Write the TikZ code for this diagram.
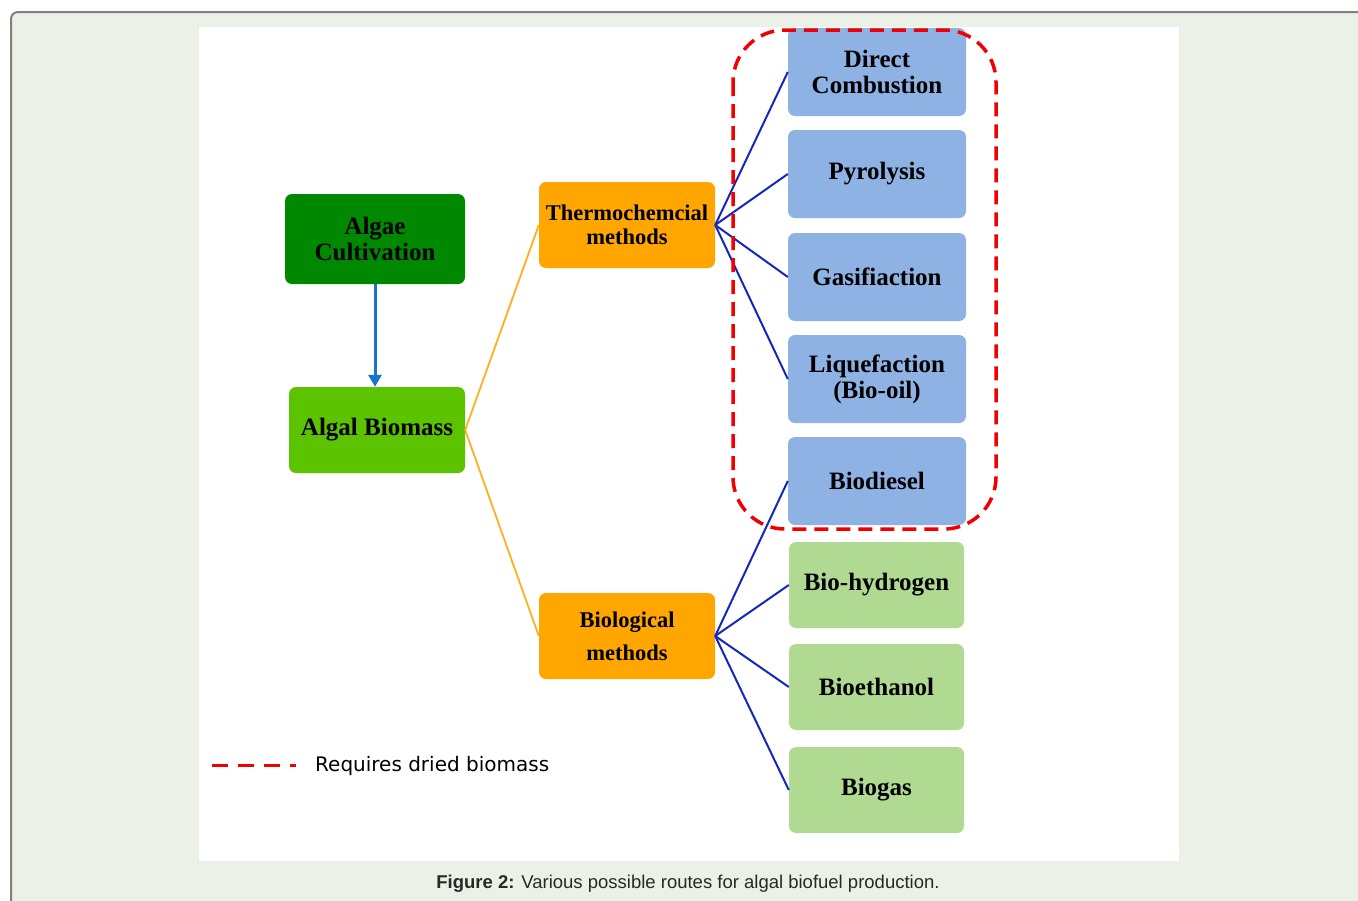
\documentclass[tikz,border=0pt]{standalone}
\usepackage{fontspec}
\setmainfont{Liberation Serif}
\newfontfamily\capfont{Liberation Sans}
\newfontfamily\legfont{DejaVu Sans}
\usetikzlibrary{arrows.meta}
\definecolor{panelbg}{RGB}{235,241,230}
\definecolor{panelborder}{RGB}{128,128,128}
\definecolor{darkgreen}{RGB}{0,136,0}
\definecolor{lightgreen}{RGB}{92,195,0}
\definecolor{orangebox}{RGB}{255,167,0}
\definecolor{bluebox}{RGB}{142,178,228}
\definecolor{greenbox}{RGB}{176,218,146}
\definecolor{arrowblue}{RGB}{24,116,205}
\definecolor{linkblue}{RGB}{20,40,190}
\definecolor{linkorange}{RGB}{255,176,30}
\definecolor{dashred}{RGB}{240,0,0}
\definecolor{captext}{RGB}{40,40,40}
\tikzset{
  box/.style={rectangle, rounded corners=7pt, inner sep=0pt, align=center,
    font=\bfseries\fontsize{25}{26}\selectfont, text=black},
  cultbox/.style={box, fill=darkgreen, minimum width=180pt, minimum height=90pt},
  biomassbox/.style={box, fill=lightgreen, minimum width=176pt, minimum height=86pt},
  methodbox/.style={box, fill=orangebox, minimum width=176pt, minimum height=86pt},
  thermobox/.style={box, fill=bluebox, minimum width=178pt, minimum height=88pt},
  biobox/.style={box, fill=greenbox, minimum width=175pt, minimum height=86pt},
  mainarrow/.style={arrowblue, line width=3pt, -{Triangle[length=12pt,width=13pt]}},
  orangelink/.style={linkorange, line width=1.8pt},
  bluelink/.style={linkblue, line width=2pt},
  dryzone/.style={dashred, line width=3.5pt, dash pattern=on 14pt off 8pt, rounded corners=52pt},
  legendline/.style={dashred, line width=3pt, dash pattern=on 16pt off 10pt}
}
\begin{document}
\begin{tikzpicture}[x=1pt,y=-1pt]
\useasboundingbox (0,0) rectangle (1358,900);
\clip (0,0) rectangle (1358,900);
\fill[panelbg, draw=panelborder, line width=2pt, rounded corners=7pt] (11,12) rectangle (1380,930);
\fill[white] (199,27) rectangle (1179,861);

% left column
\node[cultbox] (cult) at (375,239) {Algae\\Cultivation};
\node[biomassbox] (biomass) at (377,430) {Algal Biomass};

% methods
\node[methodbox, font=\bfseries\fontsize{22.5}{24}\selectfont] (thermo) at (627,225) {Thermochemcial\\methods};
\node[methodbox, font=\bfseries\fontsize{22.5}{33}\selectfont] (bio) at (627,636) {Biological\\methods};

% thermochemical products
\node[thermobox] (comb) at (877,72) {Direct\\Combustion};
\node[thermobox] (pyro) at (877,174) {Pyrolysis};
\node[thermobox] (gas) at (877,277) {Gasifiaction};
\node[thermobox] (liq) at (877,379) {Liquefaction\\(Bio-oil)};
\node[thermobox] (diesel) at (877,481) {Biodiesel};

% biological products
\node[biobox] (hydro) at (876.5,585) {Bio-hydrogen};
\node[biobox] (ethanol) at (876.5,687) {Bioethanol};
\node[biobox] (biogas) at (876.5,790) {Biogas};

% connectors
\draw[mainarrow] (cult.south) -- (cult.south |- biomass.north);
\draw[orangelink] (biomass.east) -- (thermo.west);
\draw[orangelink] (biomass.east) -- (bio.west);
\foreach \t in {comb,pyro,gas,liq}
  \draw[bluelink] (thermo.east) -- (\t.west);
\foreach \t in {diesel,hydro,ethanol,biogas}
  \draw[bluelink] (bio.east) -- (\t.west);

% dried-biomass zone
\draw[dryzone] (733,30) rectangle (996,529);

% legend
\coordinate (lega) at (212,765);
\coordinate (legb) at (296,765);
\draw[legendline] (lega) -- (legb);
\node[anchor=west, inner sep=0pt, font=\legfont\fontsize{20}{24}\selectfont] (legtext) at (315,766) {Requires dried biomass};

% caption
\node[font=\capfont\fontsize{18.5}{20}\selectfont, text=captext, inner sep=0pt] (caption) at (688,884) {\textbf{Figure 2:} Various possible routes for algal biofuel production.};
\end{tikzpicture}
\end{document}
